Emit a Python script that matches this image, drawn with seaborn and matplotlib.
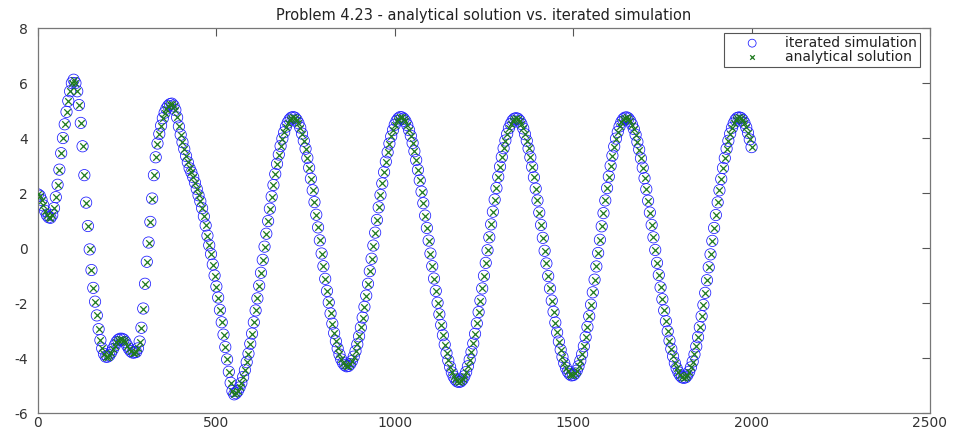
import numpy as np
import pandas as pd
import matplotlib
matplotlib.use("Agg")
import matplotlib.pyplot as plt
import seaborn as sns

t_step = 5
t_values = np.arange(0, 2001, t_step)

sim_y = [
    # 0 .. 555
    1.95, 1.9, 1.75, 1.55, 1.35, 1.2, 1.12, 1.1, 1.2, 1.45,
    1.85, 2.3, 2.85, 3.45, 4.0, 4.5, 4.95, 5.35, 5.7, 6.0,
    6.12, 6.0, 5.7, 5.2, 4.55, 3.7, 2.65, 1.65, 0.8, -0.05,
    -0.8, -1.45, -1.95, -2.45, -2.95, -3.35, -3.65, -3.85, -3.95, -3.95,
    -3.9, -3.8, -3.68, -3.55, -3.42, -3.34, -3.3, -3.3, -3.33, -3.42,
    -3.55, -3.66, -3.75, -3.8, -3.8, -3.78, -3.65, -3.4, -2.9, -2.2,
    -1.3, -0.5, 0.2, 0.95, 1.8, 2.65, 3.3, 3.8, 4.15, 4.45,
    4.72, 4.92, 5.07, 5.17, 5.23, 5.25, 5.18, 5.02, 4.75, 4.42,
    4.12, 3.85, 3.6, 3.35, 3.12, 2.9, 2.75, 2.58, 2.38, 2.15,
    1.92, 1.7, 1.45, 1.15, 0.82, 0.45, 0.1, -0.22, -0.6, -1.0,
    -1.4, -1.8, -2.25, -2.7, -3.15, -3.6, -4.05, -4.5, -4.9, -5.2,
    -5.32, -5.28,
    # 560 .. 715
    -5.20, -5.07, -4.91, -4.69, -4.44, -4.15, -3.84, -3.48, -3.11, -2.70,
    -2.27, -1.83, -1.37, -0.90, -0.43, 0.05, 0.52, 0.98, 1.43, 1.87,
    2.29, 2.69, 3.06, 3.40, 3.71, 3.98, 4.21, 4.41, 4.56, 4.67,
    4.74, 4.76,
    # 720 .. 865
    4.74, 4.66, 4.54, 4.38, 4.16, 3.90, 3.61, 3.28, 2.92, 2.52,
    2.10, 1.67, 1.21, 0.75, 0.28, -0.20, -0.66, -1.12, -1.56, -1.98,
    -2.38, -2.75, -3.09, -3.39, -3.65, -3.87, -4.05, -4.18, -4.26, -4.30,
    # 870 .. 1015
    -4.29, -4.22, -4.11, -3.95, -3.75, -3.50, -3.21, -2.89, -2.53, -2.14,
    -1.73, -1.30, -0.84, -0.39, 0.09, 0.56, 1.02, 1.48, 1.93, 2.35,
    2.76, 3.14, 3.48, 3.80, 4.06, 4.29, 4.48, 4.62, 4.71, 4.76,
    # 1020 .. 1180
    4.75, 4.70, 4.61, 4.47, 4.29, 4.08, 3.82, 3.52, 3.20, 2.84,
    2.46, 2.05, 1.63, 1.18, 0.73, 0.27, -0.20, -0.66, -1.11, -1.56,
    -1.99, -2.41, -2.80, -3.17, -3.51, -3.82, -4.09, -4.32, -4.52, -4.67,
    -4.78, -4.85, -4.87,
    # 1185 .. 1340
    -4.85, -4.78, -4.66, -4.51, -4.30, -4.06, -3.78, -3.47, -3.12, -2.74,
    -2.33, -1.91, -1.47, -1.01, -0.54, -0.08, 0.39, 0.86, 1.32, 1.76,
    2.18, 2.59, 2.96, 3.31, 3.63, 3.91, 4.15, 4.36, 4.51, 4.63,
    4.70, 4.72,
    # 1345 .. 1495
    4.70, 4.63, 4.51, 4.35, 4.14, 3.90, 3.62, 3.30, 2.95, 2.57,
    2.16, 1.73, 1.29, 0.84, 0.37, -0.10, -0.56, -1.02, -1.47, -1.91,
    -2.32, -2.71, -3.07, -3.40, -3.70, -3.96, -4.19, -4.36, -4.49, -4.58,
    -4.63,
    # 1500 .. 1645
    -4.62, -4.56, -4.46, -4.30, -4.10, -3.86, -3.57, -3.24, -2.87, -2.48,
    -2.06, -1.61, -1.15, -0.67, -0.18, 0.30, 0.79, 1.27, 1.73, 2.18,
    2.60, 2.99, 3.36, 3.69, 3.98, 4.22, 4.42, 4.58, 4.68, 4.74,
    # 1650 .. 1810
    4.75, 4.71, 4.62, 4.49, 4.33, 4.12, 3.86, 3.58, 3.26, 2.92,
    2.54, 2.14, 1.72, 1.29, 0.84, 0.39, -0.07, -0.54, -0.98, -1.43,
    -1.86, -2.27, -2.66, -3.03, -3.37, -3.67, -3.94, -4.18, -4.37, -4.52,
    -4.63, -4.70, -4.72,
    # 1815 .. 1965
    -4.70, -4.62, -4.50, -4.34, -4.13, -3.87, -3.58, -3.24, -2.88, -2.48,
    -2.07, -1.63, -1.17, -0.70, -0.23, 0.26, 0.73, 1.20, 1.66, 2.10,
    2.51, 2.91, 3.27, 3.61, 3.90, 4.16, 4.37, 4.53, 4.66, 4.73,
    4.75,
    # 1970 .. 2000
    4.73, 4.66, 4.55, 4.39, 4.19, 3.95, 3.67,
]
# the analytical solution lies on top of the simulation in the picture
ana_y = list(sim_y)

title_text = "Problem 4.23 - analytical solution vs. iterated simulation"
sim_label = "iterated simulation"
ana_label = "analytical solution"
x_ticks = [0, 500, 1000, 1500, 2000, 2500]
y_ticks = [-6, -4, -2, 0, 2, 4, 6, 8]

df = pd.DataFrame({"t": t_values, "sim": sim_y, "ana": ana_y})

# ---- style ----
sns.set_style("white")
plt.rcParams["font.family"] = ["DejaVu Sans"]
plt.rcParams["axes.unicode_minus"] = False

fig = plt.figure(figsize=(9.54, 4.28), dpi=100)
ax = fig.add_axes([0.0398, 0.035, 0.935, 0.8995])

sns.scatterplot(data=df, x="t", y="sim", marker="o", s=66,
                facecolor="none", edgecolor="#1a1aff", linewidth=0.55,
                label=sim_label, ax=ax, zorder=2)
sns.scatterplot(data=df, x="t", y="ana", marker="x", s=22,
                color="#1f7a1f", linewidth=0.9,
                label=ana_label, ax=ax, zorder=3)

ax.set_xlim(0, 2500)
ax.set_ylim(-6, 8)
ax.set_xticks(x_ticks)
ax.set_yticks(y_ticks)
ax.set_xticklabels([str(v) for v in x_ticks])
ax.set_yticklabels([str(v) for v in y_ticks])
ax.set_xlabel("")
ax.set_ylabel("")
ax.tick_params(axis="both", direction="in", length=6, width=0.8,
               color="#555555", labelsize=10, labelcolor="#333333",
               top=True, right=True)
ax.tick_params(axis="x", pad=2)
ax.tick_params(axis="y", pad=7)
for sp in ax.spines.values():
    sp.set_color("#777777")
    sp.set_linewidth(0.9)

ax.set_title(title_text, fontsize=10.5, pad=6, color="#222222")

leg = ax.legend(loc="upper right", bbox_to_anchor=(0.989, 0.987),
                borderaxespad=0, frameon=True, fancybox=False,
                framealpha=1, edgecolor="#555555", fontsize=10,
                handlelength=3.6, handletextpad=0.6, borderpad=0.2,
                labelspacing=0.0, markerscale=0.7)
leg.get_frame().set_linewidth(0.8)
for txt in leg.get_texts():
    txt.set_color("#222222")

fig.savefig("out.png", dpi=100, facecolor="white")
